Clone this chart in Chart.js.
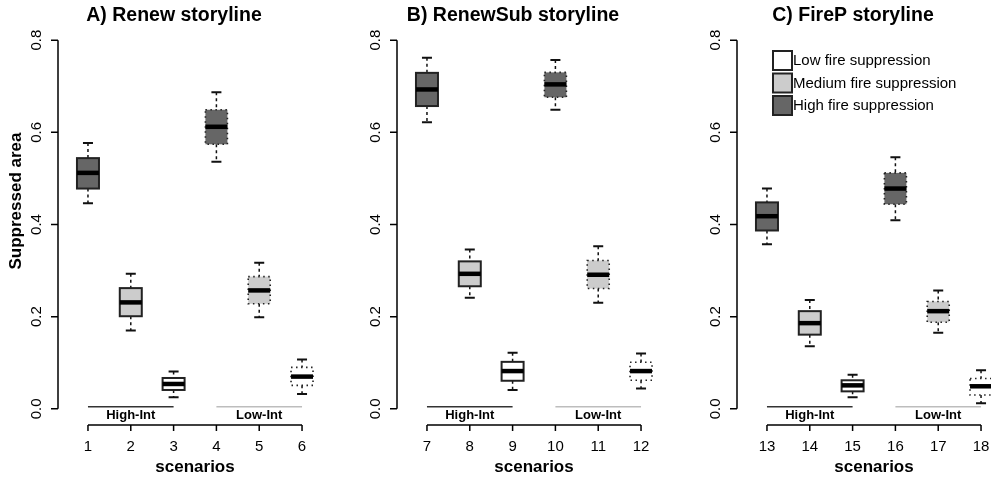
<!DOCTYPE html>
<html>
<head>
<meta charset="utf-8">
<script src="https://cdn.jsdelivr.net/npm/chart.js@4"></script>
<style>
  html, body { margin: 0; padding: 0; background: #fff; overflow: hidden; }
  #wrap { position: relative; width: 991px; height: 479px; overflow: hidden; }
  canvas { position: absolute; top: 0; }
</style>
</head>
<body>
<div id="wrap">
  <canvas id="panelA" width="340" height="479" style="left:0px"></canvas>
  <canvas id="panelB" width="340" height="479" style="left:339px"></canvas>
  <canvas id="panelC" width="340" height="479" style="left:679px"></canvas>
</div>
<script>
// scenario numbers per panel
const scenariosA = [1, 2, 3, 4, 5, 6];
const scenariosB = [7, 8, 9, 10, 11, 12];
const scenariosC = [13, 14, 15, 16, 17, 18];

// suppression level of each box (same order in each panel)
const levels = ["high", "medium", "low", "high", "medium", "low"];
// intensity group: solid border = High-Int, dotted = Low-Int
const groups = ["High-Int", "High-Int", "High-Int", "Low-Int", "Low-Int", "Low-Int"];

// box statistics: [lower whisker, q1, median, q3, upper whisker]
const statsA = [
  [0.446, 0.478, 0.512, 0.544, 0.577],
  [0.170, 0.201, 0.231, 0.262, 0.293],
  [0.025, 0.041, 0.054, 0.067, 0.081],
  [0.536, 0.574, 0.612, 0.649, 0.687],
  [0.199, 0.228, 0.257, 0.287, 0.317],
  [0.032, 0.051, 0.070, 0.090, 0.107],
];
const statsB = [
  [0.622, 0.657, 0.693, 0.729, 0.762],
  [0.241, 0.266, 0.293, 0.320, 0.346],
  [0.041, 0.061, 0.082, 0.102, 0.122],
  [0.649, 0.676, 0.704, 0.730, 0.757],
  [0.230, 0.261, 0.291, 0.322, 0.353],
  [0.044, 0.062, 0.082, 0.101, 0.120],
];
const statsC = [
  [0.357, 0.387, 0.418, 0.448, 0.478],
  [0.136, 0.161, 0.186, 0.212, 0.236],
  [0.025, 0.038, 0.051, 0.062, 0.074],
  [0.409, 0.444, 0.478, 0.512, 0.546],
  [0.165, 0.188, 0.212, 0.233, 0.257],
  [0.012, 0.030, 0.049, 0.066, 0.084],
];

const yTicks = [0.0, 0.2, 0.4, 0.6, 0.8];
const legendLabels = ["Low fire suppression", "Medium fire suppression", "High fire suppression"];

const fills = { low: "#ffffff", medium: "#cccccc", high: "#666666" };
const FONT = "'Liberation Sans', Arial, sans-serif";

function boxPlugin(title, stats, scenarios, showYLabel, showLegend) {
  return {
    id: "boxes",
    afterDatasetsDraw(chart) {
      const ctx = chart.ctx;
      const x = chart.scales.x;
      const y = chart.scales.y;
      const area = chart.chartArea;
      const halfW = 11;
      const capW = 5;

      ctx.save();
      // boxes
      stats.forEach((s, i) => {
        const cx = x.getPixelForValue(scenarios[i]);
        const dotted = groups[i] === "Low-Int";
        const yLo = y.getPixelForValue(s[0]);
        const yQ1 = y.getPixelForValue(s[1]);
        const yMed = y.getPixelForValue(s[2]);
        const yQ3 = y.getPixelForValue(s[3]);
        const yHi = y.getPixelForValue(s[4]);

        // whiskers
        ctx.strokeStyle = "#111";
        ctx.lineWidth = 1.5;
        ctx.setLineDash([3, 3]);
        ctx.beginPath();
        ctx.moveTo(cx, yHi); ctx.lineTo(cx, yQ3);
        ctx.moveTo(cx, yQ1); ctx.lineTo(cx, yLo);
        ctx.stroke();
        ctx.setLineDash([]);
        ctx.lineWidth = 2;
        ctx.beginPath();
        ctx.moveTo(cx - capW, yHi); ctx.lineTo(cx + capW, yHi);
        ctx.moveTo(cx - capW, yLo); ctx.lineTo(cx + capW, yLo);
        ctx.stroke();

        // box
        ctx.fillStyle = fills[levels[i]];
        ctx.fillRect(cx - halfW, yQ3, halfW * 2, yQ1 - yQ3);
        if (dotted) {
          ctx.setLineDash([1.5, 3.5]);
          ctx.lineWidth = 1.6;
          ctx.strokeStyle = "#222";
        } else {
          ctx.lineWidth = 2;
          ctx.strokeStyle = "#222";
        }
        ctx.strokeRect(cx - halfW, yQ3, halfW * 2, yQ1 - yQ3);
        ctx.setLineDash([]);

        // median
        ctx.strokeStyle = "#000";
        ctx.lineWidth = 4.5;
        ctx.beginPath();
        ctx.moveTo(cx - halfW, yMed); ctx.lineTo(cx + halfW, yMed);
        ctx.stroke();
      });

      // group bars under boxes
      const y0 = y.getPixelForValue(0);
      [["High-Int", "#333333", 0, 2], ["Low-Int", "#bdbdbd", 3, 5]].forEach(([lab, col, a, b]) => {
        const xa = x.getPixelForValue(scenarios[a]);
        const xb = x.getPixelForValue(scenarios[b]);
        ctx.strokeStyle = col;
        ctx.lineWidth = 1.5;
        ctx.beginPath();
        ctx.moveTo(xa, y0 - 2); ctx.lineTo(xb, y0 - 2);
        ctx.stroke();
        ctx.fillStyle = "#000";
        ctx.font = "bold 13px " + FONT;
        ctx.textAlign = "center";
        ctx.textBaseline = "middle";
        ctx.fillText(lab, x.getPixelForValue(scenarios[a + 1]), y0 + 7);
      });

      // y axis
      ctx.strokeStyle = "#000";
      ctx.lineWidth = 1.5;
      ctx.beginPath();
      ctx.moveTo(area.left, y.getPixelForValue(yTicks[0]));
      ctx.lineTo(area.left, y.getPixelForValue(yTicks[yTicks.length - 1]));
      yTicks.forEach(t => {
        const py = y.getPixelForValue(t);
        ctx.moveTo(area.left - 7, py); ctx.lineTo(area.left, py);
      });
      ctx.stroke();
      ctx.fillStyle = "#000";
      ctx.font = "15px " + FONT;
      ctx.textAlign = "center";
      ctx.textBaseline = "middle";
      yTicks.forEach(t => {
        const py = y.getPixelForValue(t);
        ctx.save();
        ctx.translate(area.left - 21, py);
        ctx.rotate(-Math.PI / 2);
        ctx.fillText(t.toFixed(1), 0, 0);
        ctx.restore();
      });

      // x axis
      const xa0 = x.getPixelForValue(scenarios[0]);
      const xa1 = x.getPixelForValue(scenarios[scenarios.length - 1]);
      ctx.beginPath();
      ctx.moveTo(xa0, area.bottom); ctx.lineTo(xa1, area.bottom);
      scenarios.forEach(v => {
        const px = x.getPixelForValue(v);
        ctx.moveTo(px, area.bottom); ctx.lineTo(px, area.bottom + 6);
      });
      ctx.stroke();
      scenarios.forEach(v => {
        ctx.fillText(String(v), x.getPixelForValue(v), area.bottom + 22);
      });
      ctx.font = "bold 17px " + FONT;
      ctx.fillText("scenarios", (area.left + area.right) / 2, area.bottom + 42);

      // title
      ctx.font = "bold 19.5px " + FONT;
      ctx.fillText(title, 174, 16);

      if (showYLabel) {
        ctx.save();
        ctx.translate(16, 201);
        ctx.rotate(-Math.PI / 2);
        ctx.font = "bold 17px " + FONT;
        ctx.fillText("Suppressed area", 0, 0);
        ctx.restore();
      }

      if (showLegend) {
        const lx = area.left + 36;
        const order = ["low", "medium", "high"];
        ctx.font = "15px " + FONT;
        ctx.textAlign = "left";
        order.forEach((lv, i) => {
          const ly = 51 + i * 22.5;
          ctx.fillStyle = fills[lv];
          ctx.fillRect(lx, ly, 19, 19);
          ctx.strokeStyle = "#222";
          ctx.lineWidth = 2;
          ctx.strokeRect(lx, ly, 19, 19);
          ctx.fillStyle = "#000";
          ctx.fillText(legendLabels[i], lx + 20, ly + 10);
        });
      }
      ctx.restore();
    }
  };
}

function makePanel(id, title, stats, scenarios, showYLabel, showLegend) {
  const first = scenarios[0];
  return new Chart(document.getElementById(id), {
    type: "scatter",
    data: {
      datasets: [{
        data: scenarios.map((v, i) => ({ x: v, y: stats[i][2] })),
        pointRadius: 0,
        showLine: false,
      }],
    },
    options: {
      responsive: false,
      animation: false,
      layout: { padding: { left: 58, right: 8, top: 24, bottom: 54 } },
      plugins: { legend: { display: false }, tooltip: { enabled: false }, title: { display: false } },
      scales: {
        x: { type: "linear", display: false, min: first - 0.7, max: first + 5.7 },
        y: { type: "linear", display: false, min: -0.035, max: 0.835 },
      },
    },
    plugins: [boxPlugin(title, stats, scenarios, showYLabel, showLegend)],
  });
}

makePanel("panelA", "A) Renew storyline", statsA, scenariosA, true, false);
makePanel("panelB", "B) RenewSub storyline", statsB, scenariosB, false, false);
makePanel("panelC", "C) FireP storyline", statsC, scenariosC, false, true);
</script>
</body>
</html>
